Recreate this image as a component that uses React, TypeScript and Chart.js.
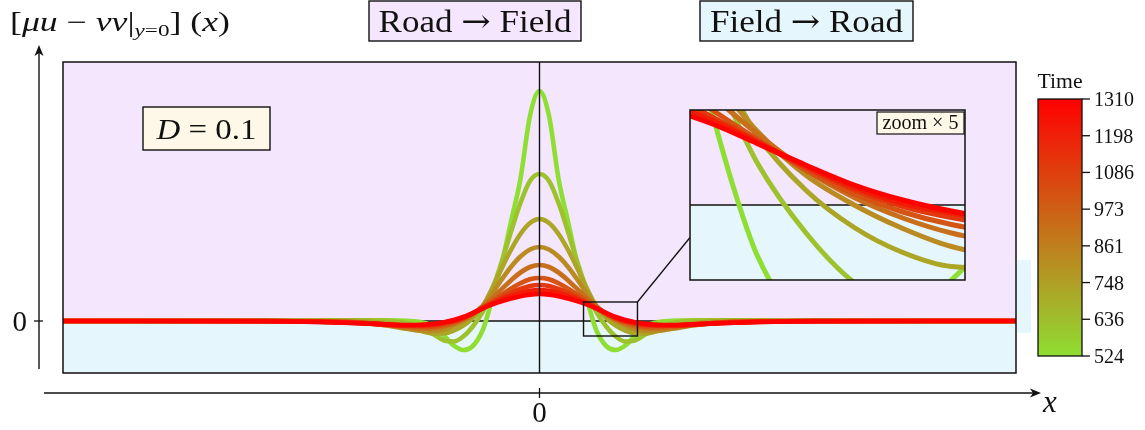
import React, { useEffect, useRef } from "react";
import { Chart, registerables } from "chart.js";
Chart.register(...registerables);

const FONT = "'Liberation Serif', 'DejaVu Serif', serif";
const FONT_SYM = "'DejaVu Serif', serif";

// x positions of the sampled profile points
const X_POS = [-50, -29, -23, -19, -16, -14, -12, -11, -10, -9, -8, -7, -6, -5.5, -5, -4, -3, -2, -1, 0, 1, 2, 3, 4, 5, 5.5, 6, 7, 8, 9, 10, 11, 12, 14, 16, 19, 23, 29, 50];

// snapshot times (colour scale)
const TIMES = [524, 622, 721, 819, 917, 1016, 1114, 1212, 1310];

const S_524 = [0, 0, 0.04, 0.08, 0.08, 0.03, -0.2, -0.65, -1.5, -2.45, -2.9, -2.5, -1.0, 0.4, 2.1, 5.6, 9.9, 14.2, 20.5, 23.0, 20.5, 14.2, 9.9, 5.6, 2.1, 0.4, -1.0, -2.5, -2.9, -2.45, -1.5, -0.65, -0.2, 0.03, 0.08, 0.08, 0.04, 0, 0];
const S_622 = [0, 0, 0.03, 0.06, 0.02, -0.2, -0.8, -1.4, -1.95, -2.05, -1.55, -0.55, 0.85, 1.85, 3.0, 5.8, 8.9, 11.8, 14.0, 14.7, 14.0, 11.8, 8.9, 5.8, 3.0, 1.85, 0.85, -0.55, -1.55, -2.05, -1.95, -1.4, -0.8, -0.2, 0.02, 0.06, 0.03, 0, 0];
const S_721 = [0, 0.01, 0.03, 0, -0.23, -0.6, -1.1, -1.26, -1.23, -0.95, -0.45, 0.3, 1.4, 2.25, 3.2, 5.2, 7.1, 8.7, 9.8, 10.2, 9.8, 8.7, 7.1, 5.2, 3.2, 2.25, 1.4, 0.3, -0.45, -0.95, -1.23, -1.26, -1.1, -0.6, -0.23, 0, 0.03, 0.01, 0];
const S_819 = [0, 0.01, 0, -0.14, -0.45, -0.78, -1.02, -1.0, -0.83, -0.47, 0, 0.6, 1.48, 2.05, 2.7, 4.1, 5.4, 6.45, 7.15, 7.4, 7.15, 6.45, 5.4, 4.1, 2.7, 2.05, 1.48, 0.6, 0, -0.47, -0.83, -1.0, -1.02, -0.78, -0.45, -0.14, 0, 0.01, 0];
const S_917 = [0, 0, -0.03, -0.16, -0.42, -0.65, -0.78, -0.73, -0.56, -0.26, 0.15, 0.7, 1.43, 1.83, 2.25, 3.15, 4.05, 4.85, 5.4, 5.6, 5.4, 4.85, 4.05, 3.15, 2.25, 1.83, 1.43, 0.7, 0.15, -0.26, -0.56, -0.73, -0.78, -0.65, -0.42, -0.16, -0.03, 0, 0];
const S_1016 = [0, 0, -0.04, -0.16, -0.36, -0.53, -0.6, -0.54, -0.39, -0.14, 0.22, 0.7, 1.32, 1.63, 1.95, 2.6, 3.24, 3.78, 4.17, 4.3, 4.17, 3.78, 3.24, 2.6, 1.95, 1.63, 1.32, 0.7, 0.22, -0.14, -0.39, -0.54, -0.6, -0.53, -0.36, -0.16, -0.04, 0, 0];
const S_1114 = [0, 0, -0.06, -0.18, -0.34, -0.45, -0.46, -0.4, -0.25, -0.03, 0.3, 0.75, 1.28, 1.54, 1.8, 2.32, 2.8, 3.2, 3.5, 3.6, 3.5, 3.2, 2.8, 2.32, 1.8, 1.54, 1.28, 0.75, 0.3, -0.03, -0.25, -0.4, -0.46, -0.45, -0.34, -0.18, -0.06, 0, 0];
const S_1212 = [0, -0.01, -0.09, -0.22, -0.36, -0.43, -0.4, -0.32, -0.16, 0.03, 0.35, 0.78, 1.26, 1.5, 1.72, 2.13, 2.5, 2.8, 3.02, 3.1, 3.02, 2.8, 2.5, 2.13, 1.72, 1.5, 1.26, 0.78, 0.35, 0.03, -0.16, -0.32, -0.4, -0.43, -0.36, -0.22, -0.09, -0.01, 0];
const S_1310 = [0, -0.02, -0.1, -0.22, -0.35, -0.4, -0.35, -0.28, -0.12, 0.1, 0.4, 0.8, 1.23, 1.45, 1.65, 1.98, 2.25, 2.48, 2.64, 2.7, 2.64, 2.48, 2.25, 1.98, 1.65, 1.45, 1.23, 0.8, 0.4, 0.1, -0.12, -0.28, -0.35, -0.4, -0.35, -0.22, -0.1, -0.02, 0];
const SERIES = [S_524, S_622, S_721, S_819, S_917, S_1016, S_1114, S_1212, S_1310];

const X_RANGE = [-50, 50];
const Y_RANGE = [-5.2, 25.9];
const ZOOM_X = [4.62, 10.28];
const ZOOM_Y = [-1.5, 1.9];
const ZOOM_FACTOR = 5;

const CB_RANGE = [524, 1310];
const CB_TICKS = [524, 636.3, 748.6, 860.9, 973.1, 1085.4, 1197.7, 1310];
const CB_LABELS = ["524", "636", "748", "861", "973", "1086", "1198", "1310"];
const CB_TITLE = "Time";
const LEGEND_LABELS = [["Road", "Field"], ["Field", "Road"]];
const D_VALUE = "0.1";

const C_GREEN = [143, 222, 51];
const C_RED = [255, 0, 0];
const C_ROAD = "rgb(244,230,253)";
const C_FIELD = "rgb(230,246,253)";
const C_NOTE = "rgb(253,248,231)";
const INK = "#111";

const W = 1145, H = 430;
const PLOT = { l: 63, t: 62, r: 1016, b: 373 };
const INSET = { l: 690, t: 110, r: 965, b: 280 };
const CBAR = { l: 1038, t: 99, r: 1082, b: 356 };

function colorAt(t: number) {
  const f = Math.max(0, Math.min(1, (t - CB_RANGE[0]) / (CB_RANGE[1] - CB_RANGE[0])));
  const c = C_GREEN.map((g, i) => Math.round(g + (C_RED[i] - g) * f));
  return `rgb(${c[0]},${c[1]},${c[2]})`;
}

type Run = { t: string; i?: boolean; s?: number; dy?: number; f?: string };
function drawRuns(ctx: CanvasRenderingContext2D, list: Run[], x: number, y: number, size: number, align: "left" | "center" | "right" = "left", fit?: number) {
  const font = (r: Run) => `${r.i ? "italic " : ""}${size * (r.s ?? 1)}px ${r.f ?? FONT}`;
  let total = 0;
  for (const r of list) { ctx.font = font(r); total += ctx.measureText(r.t).width; }
  const k = fit ? fit / total : 1;
  const w = total * k;
  const sx = align === "left" ? x : align === "center" ? x - w / 2 : x - w;
  ctx.save();
  ctx.fillStyle = INK;
  ctx.textBaseline = "alphabetic";
  ctx.textAlign = "left";
  ctx.translate(sx, y);
  ctx.scale(k, 1);
  let cx = 0;
  for (const r of list) {
    ctx.font = font(r);
    ctx.fillText(r.t, cx, (r.dy ?? 0) * size);
    cx += ctx.measureText(r.t).width;
  }
  ctx.restore();
}

function seg(ctx: CanvasRenderingContext2D, x1: number, y1: number, x2: number, y2: number, lw = 1.3, col = INK) {
  ctx.save();
  ctx.strokeStyle = col; ctx.lineWidth = lw;
  ctx.beginPath(); ctx.moveTo(x1, y1); ctx.lineTo(x2, y2); ctx.stroke();
  ctx.restore();
}

function box(ctx: CanvasRenderingContext2D, l: number, t: number, r: number, b: number, fill: string | null, lw = 1.4) {
  ctx.save();
  if (fill) { ctx.fillStyle = fill; ctx.fillRect(l, t, r - l, b - t); }
  ctx.strokeStyle = INK; ctx.lineWidth = lw;
  ctx.strokeRect(l, t, r - l, b - t);
  ctx.restore();
}

function arrowHead(ctx: CanvasRenderingContext2D, tx: number, ty: number, dir: "up" | "right") {
  ctx.save();
  ctx.fillStyle = INK;
  ctx.beginPath();
  if (dir === "up") {
    ctx.moveTo(tx, ty); ctx.lineTo(tx - 4.5, ty + 11); ctx.lineTo(tx, ty + 8); ctx.lineTo(tx + 4.5, ty + 11);
  } else {
    ctx.moveTo(tx, ty); ctx.lineTo(tx - 11, ty - 4.5); ctx.lineTo(tx - 8, ty); ctx.lineTo(tx - 11, ty + 4.5);
  }
  ctx.closePath(); ctx.fill();
  ctx.restore();
}

function makeDatasets(lw: number) {
  return SERIES.map((s, i) => ({
    label: String(TIMES[i]),
    data: X_POS.map((x, j) => ({ x, y: s[j] })),
    borderColor: colorAt(TIMES[i]),
    borderWidth: lw,
    pointRadius: 0,
    cubicInterpolationMode: "monotone" as const,
    fill: false,
    order: SERIES.length - i,
    clip: 0,
  }));
}

function bgSplit(chart: any) {
  const { ctx, chartArea: a, scales } = chart;
  const y0 = scales.y.getPixelForValue(0);
  ctx.save();
  ctx.fillStyle = C_ROAD; ctx.fillRect(a.left, a.top, a.right - a.left, y0 - a.top);
  ctx.fillStyle = C_FIELD; ctx.fillRect(a.left, y0, a.right - a.left, a.bottom - y0);
  ctx.restore();
  seg(ctx, a.left, y0, a.right, y0, 1.4);
}

const arrowRuns = (pair: string[]): Run[] => [{ t: pair[0] + " " }, { t: "→", f: FONT_SYM }, { t: " " + pair[1] }];

const mainDecor = {
  id: "mainDecor",
  beforeDatasetsDraw(chart: any) {
    const { ctx, chartArea: a } = chart;
    bgSplit(chart);
    ctx.save();
    ctx.fillStyle = C_FIELD;
    ctx.fillRect(a.right + 1, 260, 14, 73);
    ctx.restore();
  },
  afterDatasetsDraw(chart: any) {
    const { ctx, chartArea: a, scales } = chart;
    const x0 = scales.x.getPixelForValue(0);
    seg(ctx, x0, a.top, x0, a.bottom, 1.4);
    box(ctx, a.left, a.top, a.right, a.bottom, null, 1.5);
    const zl = scales.x.getPixelForValue(ZOOM_X[0]);
    const zr = scales.x.getPixelForValue(ZOOM_X[1]);
    const zt = scales.y.getPixelForValue(ZOOM_Y[1]);
    const zb = scales.y.getPixelForValue(ZOOM_Y[0]);
    box(ctx, zl, zt, zr, zb, null, 1.4);
    seg(ctx, zr, zt, INSET.l, INSET.t + (INSET.b - INSET.t) * 0.75, 1.3);
  },
  afterDraw(chart: any) {
    const { ctx, scales } = chart;
    const y0 = scales.y.getPixelForValue(0);
    const x0 = scales.x.getPixelForValue(0);
    seg(ctx, 39, 52, 39, 369, 1.4);
    arrowHead(ctx, 39, 45, "up");
    seg(ctx, 34, y0, 43, y0, 1.3);
    drawRuns(ctx, [{ t: "0" }], 27, y0 + 10, 29, "right");
    drawRuns(ctx, [
      { t: "[" }, { t: "μu", i: true }, { t: " − " }, { t: "νv", i: true }, { t: "|" },
      { t: "y", i: true, s: 0.65, dy: 0.2 }, { t: "=0", s: 0.65, dy: 0.2 },
      { t: "]" }, { t: " (" }, { t: "x", i: true }, { t: ")" },
    ], 10, 31, 27, "left", 220);
    seg(ctx, 44, 393, 1034, 393, 1.4);
    arrowHead(ctx, 1041, 393, "right");
    seg(ctx, x0, 388, x0, 398, 1.3);
    drawRuns(ctx, [{ t: "0" }], x0, 422, 29, "center");
    drawRuns(ctx, [{ t: "x", i: true }], 1043, 412, 31, "left");
    box(ctx, 369, 1, 581, 41, C_ROAD, 1.4);
    drawRuns(ctx, arrowRuns(LEGEND_LABELS[0]), 475, 32, 32, "center", 193);
    box(ctx, 700, 1, 913, 41, C_FIELD, 1.4);
    drawRuns(ctx, arrowRuns(LEGEND_LABELS[1]), 806.5, 32, 32, "center", 193);
    box(ctx, 143, 107, 270, 150, C_NOTE, 1.4);
    drawRuns(ctx, [{ t: "D", i: true }, { t: " = " + D_VALUE }], 206.5, 139, 30, "center", 100);
    const g = ctx.createLinearGradient(0, CBAR.b, 0, CBAR.t);
    g.addColorStop(0, colorAt(CB_RANGE[0]));
    g.addColorStop(1, colorAt(CB_RANGE[1]));
    ctx.save(); ctx.fillStyle = g; ctx.fillRect(CBAR.l, CBAR.t, CBAR.r - CBAR.l, CBAR.b - CBAR.t); ctx.restore();
    box(ctx, CBAR.l, CBAR.t, CBAR.r, CBAR.b, null, 1.3);
    drawRuns(ctx, [{ t: CB_TITLE }], (CBAR.l + CBAR.r) / 2, 88, 20, "center", 45);
    CB_TICKS.forEach((v, i) => {
      const yy = CBAR.b - (v - CB_RANGE[0]) / (CB_RANGE[1] - CB_RANGE[0]) * (CBAR.b - CBAR.t);
      seg(ctx, CBAR.r, yy, CBAR.r + 8, yy, 1.3);
      drawRuns(ctx, [{ t: CB_LABELS[i] }], CBAR.r + 12, yy + 7, 20, "left");
    });
  },
};

const insetDecor = {
  id: "insetDecor",
  beforeDatasetsDraw(chart: any) { bgSplit(chart); },
  afterDatasetsDraw(chart: any) {
    const { ctx, chartArea: a } = chart;
    box(ctx, a.left, a.top, a.right, a.bottom, null, 1.5);
    box(ctx, a.right - 88, a.top + 2, a.right - 1, a.top + 24, C_NOTE, 1.2);
    drawRuns(ctx, [{ t: "zoom " }, { t: "× " }, { t: String(ZOOM_FACTOR) }], a.right - 44.5, a.top + 19, 21, "center", 76);
  },
};

export default function App() {
  const mainRef = useRef<HTMLCanvasElement>(null);
  const insetRef = useRef<HTMLCanvasElement>(null);
  useEffect(() => {
    document.body.style.margin = "0";
    const common = (padding: any, xr: number[], yr: number[]) => ({
      animation: false as const,
      responsive: false,
      events: [] as any[],
      layout: { padding },
      scales: {
        x: { type: "linear" as const, min: xr[0], max: xr[1], display: false },
        y: { type: "linear" as const, min: yr[0], max: yr[1], display: false },
      },
      plugins: { legend: { display: false }, tooltip: { enabled: false }, title: { display: false } },
    });
    const main = new Chart(mainRef.current!, {
      type: "line",
      data: { datasets: makeDatasets(4.6) as any },
      options: common({ left: PLOT.l, top: PLOT.t, right: W - PLOT.r, bottom: H - PLOT.b }, X_RANGE, Y_RANGE) as any,
      plugins: [mainDecor],
    });
    const inset = new Chart(insetRef.current!, {
      type: "line",
      data: { datasets: makeDatasets(5) as any },
      options: common({ left: INSET.l, top: INSET.t, right: W - INSET.r, bottom: H - INSET.b }, ZOOM_X, ZOOM_Y) as any,
      plugins: [insetDecor],
    });
    return () => { main.destroy(); inset.destroy(); };
  }, []);
  const cs: React.CSSProperties = { position: "absolute", left: 0, top: 0, width: W, height: H };
  return (
    <div style={{ position: "fixed", left: 0, top: 0, width: W, height: H, background: "#fff" }}>
      <canvas ref={mainRef} width={W} height={H} style={cs} />
      <canvas ref={insetRef} width={W} height={H} style={cs} />
    </div>
  );
}
